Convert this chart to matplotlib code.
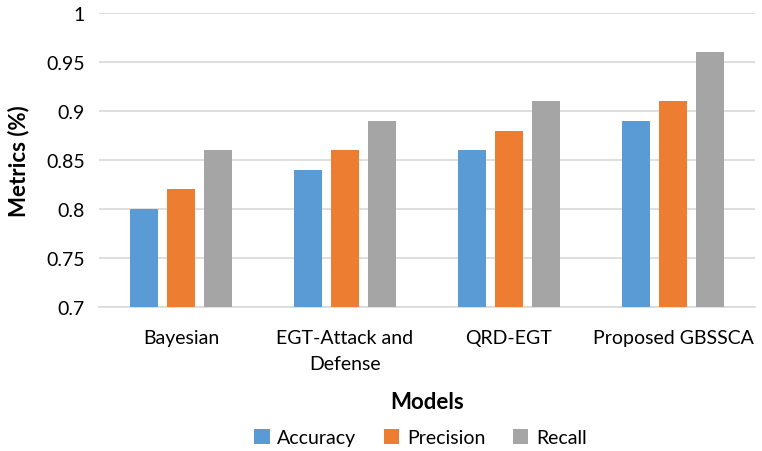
#!/usr/bin/env python3
"""Grouped bar chart of accuracy, precision and recall for each model."""

import numpy as np
import matplotlib
matplotlib.use('Agg')
import matplotlib.pyplot as plt

plt.rcParams['font.family'] = ['Lato', 'DejaVu Sans']

models = ['Bayesian', 'EGT-Attack and\nDefense', 'QRD-EGT', 'Proposed GBSSCA']
accuracy = [0.80, 0.84, 0.86, 0.89]
precision = [0.82, 0.86, 0.88, 0.91]
recall = [0.86, 0.89, 0.91, 0.96]
yticks = [0.7, 0.75, 0.8, 0.85, 0.9, 0.95, 1.0]
ytick_labels = ['0.7', '0.75', '0.8', '0.85', '0.9', '0.95', '1']

fig = plt.figure(figsize=(7.62, 4.52), dpi=100)
ax = fig.add_axes([99/762, 1 - 308/452, (755 - 99)/762, (308 - 14)/452])

x = np.arange(len(models))
w = 0.17
step = 0.226
ax.bar(x - step, accuracy, w, color='#5B9BD5', label='Accuracy', zorder=3)
ax.bar(x, precision, w, color='#ED7D31', label='Precision', zorder=3)
ax.bar(x + step, recall, w, color='#A5A5A5', label='Recall', zorder=3)

ax.set_xlim(-0.5, len(models) - 0.5)
ax.set_ylim(0.7, 1.0)
ax.set_yticks(yticks)
ax.set_yticklabels(ytick_labels, fontsize=14)
ax.set_xticks(x)
ax.set_xticklabels(models, fontsize=14, linespacing=1.6)
ax.tick_params(length=0, pad=10)
ax.tick_params(axis='x', pad=16)
ax.grid(axis='y', color='#D9D9D9', linewidth=1.2, zorder=0)
for s in ['top', 'right', 'left']:
    ax.spines[s].set_visible(False)
ax.spines['bottom'].set_color('#D9D9D9')
ax.spines['bottom'].set_linewidth(1.2)

ax.set_ylabel('Metrics (%)', fontsize=16, fontweight='bold', labelpad=12)
ax.set_xlabel('Models', fontsize=16, fontweight='bold', labelpad=14)

ax.legend(loc='upper center', bbox_to_anchor=(0.49, -0.355), ncol=3,
          frameon=False, fontsize=14, handlelength=0.8, handleheight=0.8,
          columnspacing=1.4, handletextpad=0.4)

fig.savefig('out.png', dpi=100)
